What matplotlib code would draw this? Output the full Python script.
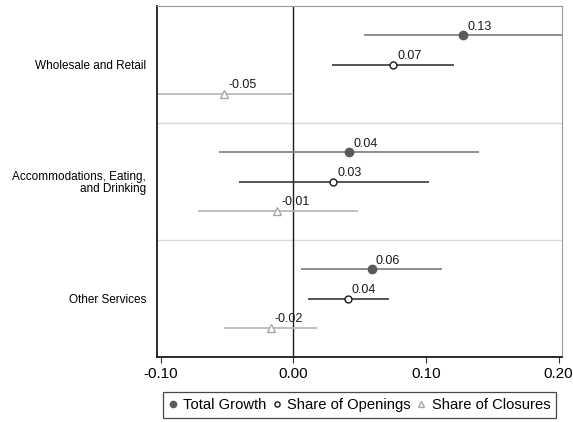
import numpy as np
import matplotlib.pyplot as plt

plt.rcParams['font.family'] = ['Liberation Sans', 'DejaVu Sans']

categories = ['Wholesale and Retail', 'Accommodations, Eating,\nand Drinking', 'Other Services']
series = ['Total Growth', 'Share of Openings', 'Share of Closures']

total = [0.128, 0.042, 0.059]
total_lo = [0.053, -0.056, 0.006]
total_hi = [0.215, 0.140, 0.112]

openings = [0.075, 0.030, 0.041]
openings_lo = [0.029, -0.041, 0.011]
openings_hi = [0.121, 0.102, 0.072]

closures = [-0.052, -0.012, -0.017]
closures_lo = [-0.115, -0.072, -0.052]
closures_hi = [-0.001, 0.049, 0.018]

labels_total = ['0.13', '0.04', '0.06']
labels_open = ['0.07', '0.03', '0.04']
labels_close = ['-0.05', '-0.01', '-0.02']

fig = plt.figure(figsize=(5.73, 4.22), dpi=100)
ax = fig.add_axes([157 / 573, 1 - 357 / 422, 405 / 573, 351 / 422])

centers = np.array([1.5, 4.5, 7.5])
offsets = [-0.745, 0.0, 0.745]

styles = [
    dict(vals=total, lo=total_lo, hi=total_hi, labs=labels_total, line='#7a7a7a',
         marker='o', mfc='#5a5a5a', mec='#5a5a5a', ms=6),
    dict(vals=openings, lo=openings_lo, hi=openings_hi, labs=labels_open, line='#3a3a3a',
         marker='o', mfc='white', mec='#1a1a1a', ms=5),
    dict(vals=closures, lo=closures_lo, hi=closures_hi, labs=labels_close, line='#b4b4b4',
         marker='^', mfc='white', mec='#a8a8a8', ms=5.5),
]

handles = []
for s, off, name in zip(styles, offsets, series):
    ys = centers + off
    ax.hlines(ys, s['lo'], s['hi'], color=s['line'], lw=1.2, zorder=2)
    h, = ax.plot(s['vals'], ys, linestyle='none', marker=s['marker'], mfc=s['mfc'],
                 mec=s['mec'], ms=s['ms'], mew=1.0, zorder=3, label=name)
    handles.append(h)
    for v, y, t in zip(s['vals'], ys, s['labs']):
        ax.annotate(t, (v, y), xytext=(3, 2), textcoords='offset points',
                    fontsize=9, ha='left', va='bottom', color='#1a1a1a')

ax.axvline(0, color='#1a1a1a', lw=1.0, zorder=1)
for yb in [3, 6]:
    ax.axhline(yb, color='#d8d8d8', lw=1.0, zorder=0)

ax.set_xlim(-0.1028, 0.2025)
ax.set_ylim(9, 0)
ax.set_xticks([-0.1, 0.0, 0.1, 0.2])
ax.set_xticklabels(['-0.10', '0.00', '0.10', '0.20'], fontsize=11)
ax.set_yticks(centers)
ax.set_yticklabels(categories, fontsize=8.5, linespacing=0.95)
ax.tick_params(axis='y', length=0, pad=8)
ax.tick_params(axis='x', length=4, width=0.8, color='#333333')

ax.spines['left'].set_color('#1a1a1a')
ax.spines['left'].set_linewidth(1.3)
ax.spines['bottom'].set_color('#1a1a1a')
ax.spines['bottom'].set_linewidth(1.3)
ax.spines['top'].set_color('#999999')
ax.spines['right'].set_color('#999999')

leg = ax.legend(handles=handles, loc='upper center', bbox_to_anchor=(0.5, -0.0997),
                borderaxespad=0, ncol=3, fontsize=10.6, frameon=True, fancybox=False,
                edgecolor='#1a1a1a', handlelength=0.6, handletextpad=0.4, columnspacing=0.4,
                borderpad=0.4, markerscale=0.75)
leg.get_frame().set_linewidth(0.9)

fig.savefig('out.png', dpi=100)
